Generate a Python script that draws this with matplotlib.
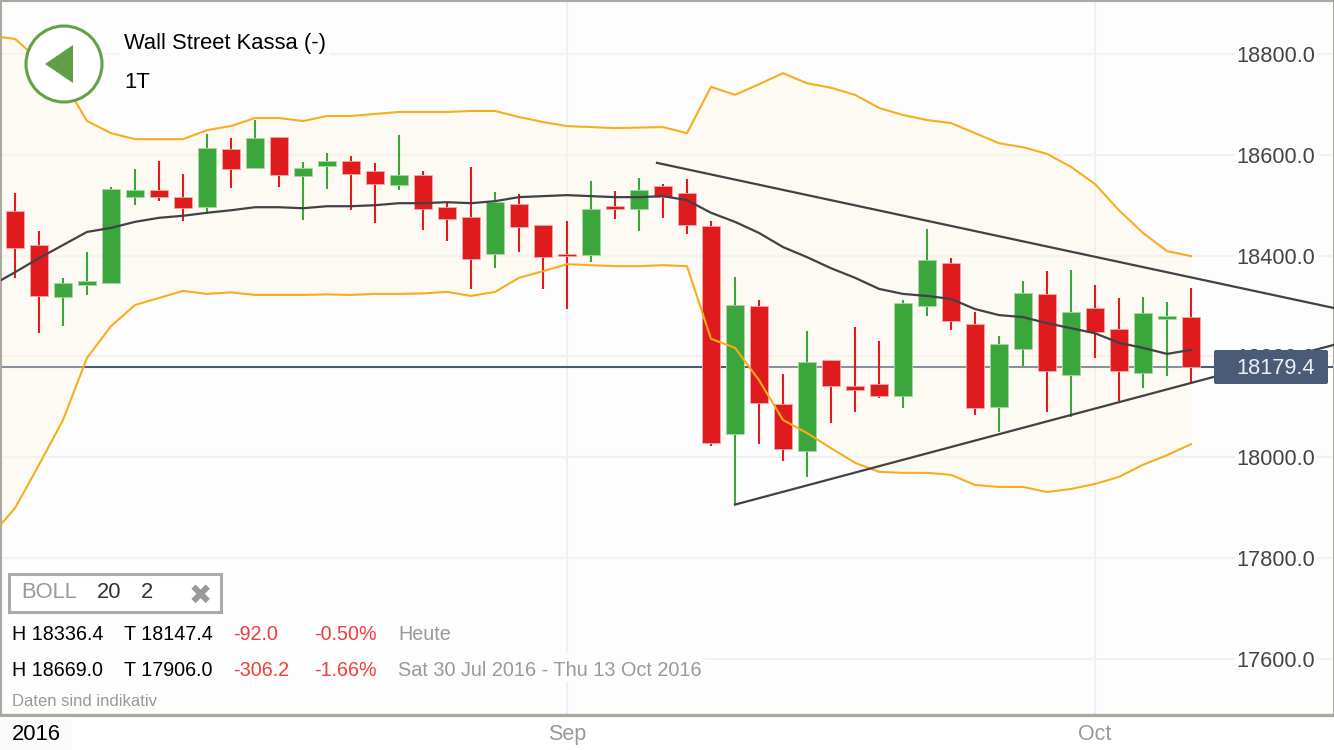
import numpy as np
import matplotlib
matplotlib.use("Agg")
import matplotlib.pyplot as plt
from matplotlib.patches import Circle, Polygon, Rectangle, FancyBboxPatch
from matplotlib.transforms import Affine2D

# Daily candles, 50 sessions
opens = [18489, 18421, 18318, 18342, 18346, 18516, 18530, 18516, 18496, 18612,
         18574, 18635, 18558, 18578, 18588, 18568, 18540, 18560, 18496, 18477,
         18403, 18502, 18461, 18403, 18401, 18498, 18492, 18538, 18524, 18459,
         18046, 18300, 18106, 18012, 18193, 18141, 18145, 18121, 18300, 18385,
         18264, 18100, 18215, 18324, 18163, 18296, 18254, 18167, 18274, 18278]
closes = [18415, 18320, 18346, 18350, 18532, 18530, 18516, 18494, 18614, 18572,
          18633, 18560, 18574, 18588, 18562, 18542, 18560, 18492, 18473, 18393,
          18506, 18457, 18397, 18399, 18492, 18492, 18530, 18516, 18461, 18028,
          18302, 18108, 18016, 18189, 18141, 18133, 18121, 18306, 18391, 18270,
          18098, 18225, 18326, 18171, 18288, 18248, 18171, 18286, 18280, 18179.4]
highs = [18524, 18449, 18356, 18407, 18536, 18572, 18588, 18562, 18641, 18633,
         18669, 18635, 18586, 18604, 18598, 18584, 18639, 18568, 18506, 18576,
         18526, 18522, 18461, 18469, 18548, 18528, 18554, 18542, 18552, 18469,
         18358, 18312, 18165, 18250, 18193, 18258, 18231, 18312, 18453, 18395,
         18288, 18240, 18350, 18369, 18371, 18342, 18316, 18318, 18308, 18336.4]
lows = [18356, 18246, 18260, 18322, 18344, 18500, 18508, 18469, 18483, 18534,
        18574, 18536, 18471, 18532, 18490, 18465, 18530, 18451, 18429, 18334,
        18375, 18407, 18334, 18294, 18387, 18473, 18449, 18475, 18443, 18022,
        17906, 18026, 17993, 17961, 18068, 18090, 18117, 18098, 18280, 18252,
        18084, 18050, 18181, 18090, 18080, 18197, 18112, 18137, 18161, 18147.4]

# Bollinger bands, the first value is the session before the first candle
boll_upper = [18836, 18830, 18788, 18748, 18667, 18643, 18631, 18631, 18631, 18649,
              18657, 18673, 18673, 18667, 18677, 18677, 18681, 18685, 18685, 18685,
              18687, 18687, 18675, 18665, 18657, 18655, 18653, 18654, 18655, 18643,
              18735, 18719, 18740, 18762, 18742, 18733, 18719, 18693, 18679, 18669,
              18663, 18643, 18623, 18615, 18602, 18576, 18542, 18490, 18445, 18409,
              18399]
boll_mid = [18340, 18367, 18395, 18421, 18447, 18455, 18467, 18475, 18479, 18485,
            18490, 18496, 18496, 18494, 18498, 18498, 18500, 18504, 18504, 18506,
            18504, 18508, 18516, 18518, 18520, 18518, 18516, 18516, 18518, 18510,
            18485, 18467, 18445, 18417, 18397, 18375, 18356, 18334, 18324, 18320,
            18314, 18294, 18282, 18278, 18266, 18256, 18246, 18227, 18217, 18205,
            18213]
boll_lower = [17844, 17899, 17985, 18074, 18197, 18260, 18302, 18316, 18330, 18324,
              18327, 18322, 18322, 18322, 18323, 18322, 18324, 18324, 18325, 18328,
              18320, 18328, 18356, 18369, 18383, 18381, 18379, 18379, 18381, 18379,
              18235, 18217, 18153, 18074, 18048, 18018, 17989, 17971, 17969, 17969,
              17965, 17945, 17941, 17941, 17931, 17937, 17947, 17961, 17985, 18004,
              18026]

# Hand drawn trend lines
trend_high_x = [26.75, 54.96]
trend_high_y = [18584, 18296]
trend_low_x = [30, 54.96]
trend_low_y = [17906, 18223]

last_price = 18179.4
y_ticks = [17600, 17800, 18000, 18200, 18400, 18600, 18800]
x_ticks = [23, 45]
x_labels = ["Sep", "Oct"]

RED = "#e01b1e"
GREEN = "#3aa63c"
ORANGE = "#f7ad1e"
DARK = "#414146"
NAVY = "#4a5b78"
FRAME = "#a9a9a0"
GRAY = "#999999"
BG = "#fdfdfd"

plt.rcParams["font.family"] = ["Liberation Sans", "DejaVu Sans"]

W, H = 1334, 750
fig = plt.figure(figsize=(W / 100, H / 100), dpi=100, facecolor="white")

# axes position in pixels, limits from the pixel scale of the chart
left, right, top, bottom = 1, 1334, 1, 714.5
ax = fig.add_axes([left / W, 1 - bottom / H, (right - left) / W, (bottom - top) / H], facecolor=BG)
ax.set_xlim((left - 15) / 24, (right - 15) / 24)
ax.set_ylim(18800 - (bottom - 54) * 1.984, 18800 + (54 - top) * 1.984)

ax.set_axisbelow(True)
ax.grid(axis="y", color="#f2f2f2", lw=1.5, zorder=0.5)
ax.grid(axis="x", color="#eef0f8", lw=1.5, zorder=0.5)

ax.axhline(last_price, color=NAVY, lw=1.5, zorder=1)

x_band = np.arange(-1, 50)
ax.fill_between(x_band, boll_lower, boll_upper, color="#fff7e3", alpha=0.35, lw=0, zorder=1.5)

x = np.arange(50)
opens = np.array(opens)
closes = np.array(closes)
colors = [GREEN if c > o else RED for o, c in zip(opens, closes)]
edges = ["#a5d8a5" if c > o else "#f2a8a8" for o, c in zip(opens, closes)]
ax.vlines(x, lows, highs, colors=colors, lw=1.5, zorder=3)
ax.bar(x, np.abs(closes - opens), bottom=np.minimum(opens, closes), width=0.79,
       color=colors, edgecolor=edges, linewidth=0.6, zorder=3.1)

ax.plot(x_band, boll_upper, color=ORANGE, lw=1.5, zorder=4)
ax.plot(x_band, boll_lower, color=ORANGE, lw=1.5, zorder=4)
ax.plot(x_band, boll_mid, color=DARK, lw=1.6, zorder=4.1)
ax.plot(trend_high_x, trend_high_y, color=DARK, lw=1.6, zorder=4.2)
ax.plot(trend_low_x, trend_low_y, color=DARK, lw=1.6, zorder=4.2)

ax.set_yticks(y_ticks)
ax.set_yticklabels(["%.1f" % v for v in y_ticks])
ax.set_xticks(x_ticks)
ax.set_xticklabels(x_labels)
ax.yaxis.tick_right()
ax.tick_params(axis="y", length=0, pad=-13.5, labelsize=15.7, labelcolor="#444444")
ax.tick_params(axis="x", length=0, pad=7, labelsize=15.5, labelcolor=GRAY)
for t in ax.yaxis.get_major_ticks():
    t.label2.set_ha("right")
    t.label2.set_bbox(dict(facecolor=BG, edgecolor="none", pad=1))

for name in ["left", "top", "right"]:
    ax.spines[name].set_color(FRAME)
    ax.spines[name].set_linewidth(1.5)
ax.spines["bottom"].set_color(FRAME)
ax.spines["bottom"].set_linewidth(2.4)

# overlay drawn in picture pixels, y going down
px = Affine2D().scale(1, -1).translate(0, H)


def label(x0, y0, s, color="black", size=14.2, ha="left"):
    fig.text(x0, y0, s, transform=px, color=color, fontsize=size, ha=ha, va="center", zorder=12)


def mask(x0, y0, x1, y1, color=BG):
    fig.add_artist(Rectangle((x0, y0), x1 - x0, y1 - y0, transform=px, facecolor=color,
                             edgecolor="none", zorder=5))


mask(119, 25, 330, 58)
mask(3, 653, 705, 682)
mask(0, 717, 72, 750, "#fbfbfb")

fig.add_artist(Circle((64, 64), 38, transform=px, facecolor="white", edgecolor="#639f49", lw=2.2, zorder=6))
fig.add_artist(Polygon([(45, 64), (73, 45), (73, 83)], transform=px, facecolor="#629e45", edgecolor="none", zorder=7))

label(124, 44, "Wall Street Kassa (-)", size=15.8)
label(124, 83, "1T", size=15.8)

# current price tag, hides the 18200 tick label
fig.add_artist(FancyBboxPatch((1216, 352), 110, 30, boxstyle="round,pad=2,rounding_size=2", transform=px,
                              facecolor=NAVY, edgecolor="none", zorder=8))
label(1315, 368, "%.1f" % last_price, color="#eef0f4", size=15.7, ha="right")

# indicator box
fig.add_artist(Rectangle((9, 574), 212, 38, transform=px, facecolor="white", edgecolor="#aaaaaa", lw=2.2, zorder=8))
label(21, 592, "BOLL", color=GRAY, size=15.8)
label(97, 592, "20", color="#333333", size=15.8)
label(141, 592, "2", color="#333333", size=15.8)
label(200, 597, "\u2716", color=GRAY, size=20, ha="center")

label(12, 634, "H 18336.4")
label(124, 634, "T 18147.4")
label(233, 634, "-92.0", color="#f23c3c")
label(314, 634, "-0.50%", color="#f23c3c")
label(398, 634, "Heute", color=GRAY)
label(12, 670, "H 18669.0")
label(124, 670, "T 17906.0")
label(233, 670, "-306.2", color="#f23c3c")
label(314, 670, "-1.66%", color="#f23c3c")
label(398, 670, "Sat 30 Jul 2016 - Thu 13 Oct 2016", color=GRAY, size=14.35)
label(12, 701, "Daten sind indikativ", color=GRAY, size=12)
label(12, 734, "2016", size=15.8)

fig.savefig("out.png", dpi=100, facecolor="white")
